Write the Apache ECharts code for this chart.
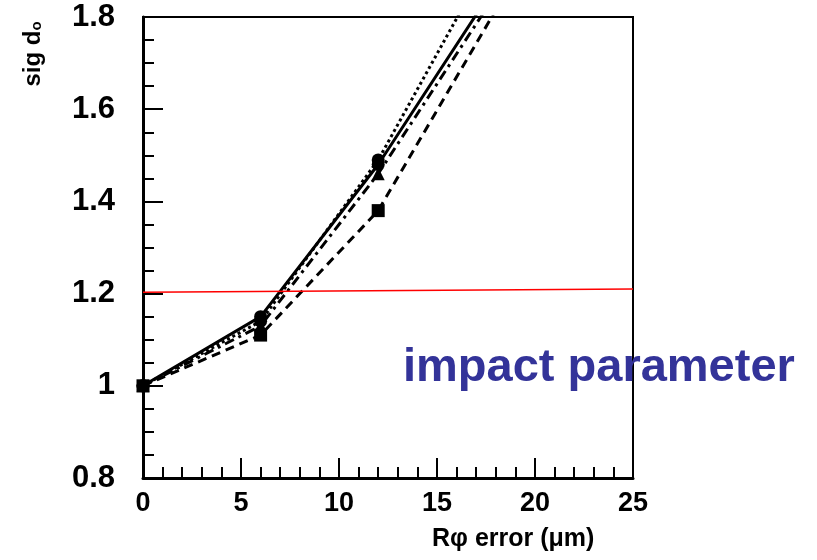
<!DOCTYPE html>
<html>
<head>
<meta charset="utf-8">
<style>
  html, body { margin: 0; padding: 0; background: #fff; }
  #chart { width: 817px; height: 560px; }
</style>
<script src="https://cdn.jsdelivr.net/npm/echarts@6/dist/echarts.min.js"></script>
</head>
<body>
<div id="chart"></div>
<script>
// x positions (Rphi error, um); the last point lies above the frame and is clipped
var xValues = [0, 6, 12, 18];
var solidValues = [1.0, 1.15, 1.48, 1.87];
var dottedValues = [1.0, 1.14, 1.49, 1.95];
var dashDotValues = [1.0, 1.13, 1.46, 1.85];
var dashedValues = [1.0, 1.11, 1.38, 1.815];
// red reference line
var refX = [0, 25];
var refValues = [1.203, 1.21];

var font = '"Liberation Sans", Arial, Helvetica, sans-serif';

function pairs(xs, ys) {
  return xs.map(function (x, i) { return [x, ys[i]]; });
}

var chart = echarts.init(document.getElementById('chart'));

function curve(name, values, type, symbol) {
  return {
    name: name,
    type: 'line',
    data: pairs(xValues, values),
    symbol: symbol,
    symbolSize: 13,
    showAllSymbol: true,
    clip: true,
    itemStyle: { color: '#000' },
    lineStyle: { color: '#000', width: 3, type: type },
    z: 3
  };
}

var option = {
  backgroundColor: '#fff',
  animation: false,
  grid: { left: 143, right: 184, top: 17, bottom: 82, show: true, borderColor: '#000', borderWidth: 2 },
  xAxis: {
    type: 'value',
    min: 0,
    max: 25,
    interval: 5,
    axisLine: { show: true, lineStyle: { color: '#000', width: 3 } },
    axisTick: { inside: true, length: 20, lineStyle: { color: '#000', width: 2 } },
    minorTick: { show: true, splitNumber: 5, length: 11, lineStyle: { color: '#000', width: 2 } },
    splitLine: { show: false },
    axisLabel: { color: '#000', fontSize: 27, fontWeight: 'bold', fontFamily: font, margin: 12 }
  },
  yAxis: {
    type: 'value',
    min: 0.8,
    max: 1.8,
    interval: 0.2,
    axisLine: { show: true, lineStyle: { color: '#000', width: 3 } },
    axisTick: { inside: true, length: 20, lineStyle: { color: '#000', width: 2 } },
    minorTick: { show: true, splitNumber: 4, length: 11, lineStyle: { color: '#000', width: 2 } },
    splitLine: { show: false },
    axisLabel: {
      color: '#000', fontSize: 31, fontWeight: 'bold', fontFamily: font, margin: 28,
      formatter: function (v) { return String(+v.toFixed(1)); }
    }
  },
  series: [
    curve('solid', solidValues, 'solid', 'circle'),
    curve('dotted', dottedValues, 'dotted', 'circle'),
    curve('dashdot', dashDotValues, [10, 5, 3, 5], 'triangle'),
    curve('dashed', dashedValues, [9, 6], 'rect'),
    {
      name: 'ref',
      type: 'line',
      data: pairs(refX, refValues),
      symbol: 'none',
      lineStyle: { color: '#ff0000', width: 1.5 },
      z: 4
    }
  ],
  graphic: [
    {
      type: 'text',
      left: 403,
      top: 345,
      z: 10,
      style: { text: 'impact parameter', fill: '#333399', font: 'bold 47px ' + font }
    },
    {
      type: 'text',
      left: 432,
      top: 527,
      style: { text: 'R\u03c6 error (\u03bcm)', fill: '#000', font: 'bold 25px ' + font }
    },
    {
      type: 'text',
      x: 33,
      y: 54,
      rotation: Math.PI / 2,
      style: {
        text: 'sig d{sub|o}',
        fill: '#000',
        fontSize: 24,
        fontWeight: 'bold',
        fontFamily: font,
        align: 'center',
        verticalAlign: 'middle',
        rich: {
          sub: { fontSize: 15, fontWeight: 'bold', fontFamily: font, fill: '#000', padding: [8, 0, 0, 0] }
        }
      }
    }
  ]
};

chart.setOption(option);
</script>
</body>
</html>
